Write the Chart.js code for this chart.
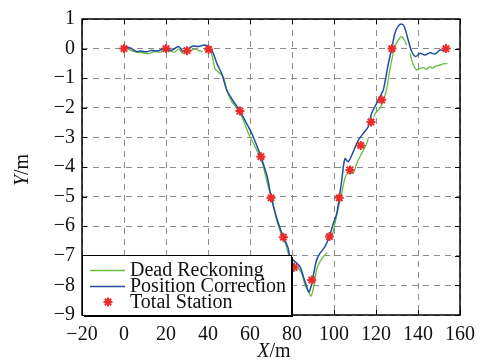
<!DOCTYPE html>
<html><head><meta charset="utf-8">
<script src="https://cdn.jsdelivr.net/npm/chart.js@4/dist/chart.umd.min.js"></script>
<style>html,body{margin:0;padding:0;background:#fff}</style>
</head><body>
<canvas id="c" width="480" height="361"></canvas>
<script>
// Tick values
const xTickValues = [-20, 0, 20, 40, 60, 80, 100, 120, 140, 160];
const yTickValues = [-9, -8, -7, -6, -5, -4, -3, -2, -1, 0, 1];

// Total Station
const tsX = [0, 20, 30, 40.3, 55.2, 65.2, 70, 75.9, 81, 89.4, 97.8, 102.5, 107.6, 112.7, 117.6, 122.7, 127.6, 153.3];
const tsY = [0, 0, -0.07, -0.03, -2.11, -3.65, -5.04, -6.37, -7.39, -7.82, -6.35, -5.04, -4.10, -3.27, -2.48, -1.73, 0, 0];

// Dead Reckoning (null = gap)
const drX = [1, 3, 6, 9, 12, 14, 17, 20, 22, 24, 26, 28, 30, 32, 34, 36, 37.5, null,
  41, 42, 43.3, 45, 47.3, 48.9, 51.3, 53, 55, 56.8, 59.2, 61.6, 64, 66, 68.7, 70.5, 72.7, 74.5, 75.9, 77, 78.2, 79.8, 82.2, 84.6, 86.2, 87.8, 89, 90.2, 91.7, 93.3, 95.7, 96.8, null,
  98.9, 100.5, 102, 103.7, 105.2, 106.8, 109.2, 110.8, 113.2, 115.6, 116.3, null,
  119, 120, 121.9, 123.5, 125.1, 126.3, 127.5, 129, 130.6, 132.2, 133.5, 134.6, null,
  136.2, 137, 137.8, 139.3, 141, 142.5, 144.1, 145.7, 147, 148.1, 150, 151.3, 154];
const drY = [0.04, -0.05, -0.12, -0.14, -0.17, -0.1, -0.12, -0.05, -0.08, -0.12, -0.02, -0.16, -0.1, -0.05, -0.02, -0.08, -0.1, null,
  -0.05, -0.25, -0.67, -0.8, -0.95, -1.4, -1.79, -1.95, -2.15, -2.41, -2.86, -3.2, -3.55, -3.9, -4.67, -5.1, -5.79, -6.2, -6.47, -6.6, -6.92, -7.25, -7.37, -7.59, -7.99, -8.21, -8.36, -8.1, -7.48, -7.2, -6.97, -6.9, null,
  -6.41, -5.9, -5.4, -4.89, -4.38, -4.21, -4.21, -3.88, -3.54, -3.2, -3.03, null,
  -2.3, -2.15, -2.02, -1.74, -1.37, -0.83, -0.39, 0.06, 0.29, 0.4, 0.29, 0.12, null,
  -0.16, -0.39, -0.55, -0.72, -0.67, -0.64, -0.7, -0.61, -0.66, -0.6, -0.57, -0.53, -0.5];

// Position Correction
const pcX = [0.5, 3, 6, 8, 10.8, 13, 15.6, 18, 20, 22.7, 25.9, 28.2, 30.6, 33, 35.4, 38.6, 41, 42.5, 44.5, 46.5, 48.9, 50.5, 52, 55.2, 58.4, 60.8, 62.8, 65.2, 68.2, 70.1, 73, 75.9, 78, 79, 80.6, 83.8, 85.4, 87, 88.1, 89.7, 90.2, 91.7, 93.3, 95.7, 97.8, 99.7, 101.3, 102.5, 103.7, 105.2, 106.8, 109.2, 111.6, 114, 116.3, 117.9, 120.3, 122.7, 123.5, 125.9, 127.5, 129, 130.6, 132.2, 133.5, 135.1, 137, 138.9, 141, 143.3, 145.7, 148.1, 150.5, 152.9, 153.5];
const pcY = [0.07, 0.02, -0.1, -0.08, -0.11, -0.06, -0.08, -0.03, 0, -0.06, 0.07, -0.1, 0, 0.09, 0.07, 0.12, 0.02, -0.16, -0.55, -0.84, -1.4, -1.6, -1.77, -2.11, -2.53, -2.86, -3.2, -3.65, -4.33, -5.04, -5.79, -6.37, -6.7, -7.0, -7.14, -7.37, -7.7, -8.04, -8.22, -7.87, -7.65, -7.14, -6.92, -6.69, -6.35, -5.9, -5.57, -5.04, -4.44, -3.72, -3.82, -3.48, -3.09, -2.86, -2.64, -2.19, -1.85, -1.51, -1.4, -0.5, 0, 0.52, 0.76, 0.83, 0.74, 0.35, -0.1, -0.27, -0.16, -0.22, -0.14, -0.18, -0.05, -0.07, 0];

const seriesNames = ['Dead Reckoning', 'Position Correction', 'Total Station'];
const GREEN = '#63bd3f', BLUE = '#1f4fa3', RED = '#ee2b2b';
const FONT = "'Liberation Serif', 'DejaVu Serif', serif";
const FS = 20;

const toPts = (xs, ys) => xs.map((x, i) => ({x: x, y: ys[i]}));
const minus = v => String(v).replace('-', '\u2212');

const framePlugin = {
  id: 'frame',
  afterDatasetsDraw(chart) {
    const {ctx, chartArea: a, scales: {x, y}} = chart;
    ctx.save();
    // inward ticks
    ctx.strokeStyle = '#000'; ctx.lineWidth = 1;
    ctx.beginPath();
    xTickValues.forEach(v => {
      const px = Math.round(x.getPixelForValue(v)) + 0.5;
      ctx.moveTo(px, a.bottom); ctx.lineTo(px, a.bottom - 5);
      ctx.moveTo(px, a.top); ctx.lineTo(px, a.top + 5);
    });
    yTickValues.forEach(v => {
      const py = Math.round(y.getPixelForValue(v)) + 0.5;
      ctx.moveTo(a.left, py); ctx.lineTo(a.left + 5, py);
      ctx.moveTo(a.right, py); ctx.lineTo(a.right - 5, py);
    });
    ctx.stroke();
    // frame
    ctx.lineWidth = 1.5;
    ctx.strokeRect(a.left, a.top, a.right - a.left, a.bottom - a.top);

    // legend box
    const bx = 82, by = 255, bw = 209, bh = 60;
    ctx.fillStyle = '#000';
    ctx.fillRect(bx + 2, by + 2, bw, bh);
    ctx.fillStyle = '#fff';
    ctx.fillRect(bx, by, bw, bh);
    ctx.lineWidth = 1;
    ctx.strokeStyle = '#000';
    ctx.strokeRect(bx + 0.5, by + 0.5, bw, bh);
    const rows = [270.5, 286.5, 302];
    ctx.lineWidth = 1.5;
    ctx.strokeStyle = GREEN;
    ctx.beginPath(); ctx.moveTo(90, rows[0]); ctx.lineTo(125, rows[0]); ctx.stroke();
    ctx.strokeStyle = BLUE;
    ctx.beginPath(); ctx.moveTo(90, rows[1]); ctx.lineTo(125, rows[1]); ctx.stroke();
    ctx.strokeStyle = RED; ctx.fillStyle = RED; ctx.lineWidth = 2;
    Chart.helpers.drawPoint(ctx, {pointStyle: 'star', radius: 4.5, borderWidth: 2}, 108, rows[2]);
    ctx.fillStyle = '#111';
    ctx.font = FS + 'px ' + FONT;
    ctx.textBaseline = 'middle';
    ctx.textAlign = 'left';
    seriesNames.forEach((n, i) => ctx.fillText(n, 130, rows[i] + 0.5));

    // axis titles
    ctx.textBaseline = 'alphabetic';
    ctx.font = 'italic ' + FS + 'px ' + FONT;
    const wX = ctx.measureText('X').width;
    ctx.font = FS + 'px ' + FONT;
    const wM = ctx.measureText('/m').width;
    const cx = 274 - (wX + wM) / 2;
    ctx.font = 'italic ' + FS + 'px ' + FONT;
    ctx.fillText('X', cx, 357);
    ctx.font = FS + 'px ' + FONT;
    ctx.fillText('/m', cx + wX, 357);

    ctx.translate(28, 170);
    ctx.rotate(-Math.PI / 2);
    ctx.font = 'italic ' + FS + 'px ' + FONT;
    const wY = ctx.measureText('Y').width;
    ctx.fillText('Y', -(wY + wM) / 2, 0);
    ctx.font = FS + 'px ' + FONT;
    ctx.fillText('/m', -(wY + wM) / 2 + wY, 0);
    ctx.restore();
  }
};

const grid = {color: '#8a8a8a', lineWidth: 1, drawTicks: false};

new Chart(document.getElementById('c'), {
  type: 'scatter',
  data: {
    datasets: [
      {label: seriesNames[2], data: toPts(tsX, tsY), order: 0, showLine: false,
       pointStyle: 'star', pointRadius: 4.5, borderColor: RED, backgroundColor: RED, pointBorderWidth: 2},
      {label: seriesNames[1], data: toPts(pcX, pcY), order: 1, showLine: true, spanGaps: false,
       borderColor: BLUE, borderWidth: 1.5, pointRadius: 0, tension: 0.3},
      {label: seriesNames[0], data: toPts(drX, drY), order: 2, showLine: true, spanGaps: false,
       borderColor: GREEN, borderWidth: 1.3, pointRadius: 0, tension: 0.3}
    ]
  },
  options: {
    responsive: false, animation: false, devicePixelRatio: 1,
    layout: {padding: {left: 0, right: 20, top: 19, bottom: 0}},
    plugins: {legend: {display: false}, tooltip: {enabled: false}},
    scales: {
      x: {type: 'linear', min: -20, max: 160,
          afterBuildTicks: s => { s.ticks = xTickValues.map(v => ({value: v})); },
          afterFit: s => { s.height = 46; s.paddingLeft = 0; s.paddingRight = 0; },
          grid: {...grid}, border: {display: false, dash: [6, 5]},
          ticks: {color: '#111', font: {family: FONT, size: FS}, padding: 8, maxRotation: 0, autoSkip: false, callback: minus}},
      y: {type: 'linear', min: -9, max: 1,
          afterBuildTicks: s => { s.ticks = yTickValues.map(v => ({value: v})); },
          afterFit: s => { s.width = 82; s.paddingTop = 0; s.paddingBottom = 0; },
          grid: {...grid}, border: {display: false, dash: [6, 5]},
          ticks: {color: '#111', font: {family: FONT, size: FS}, padding: 7, autoSkip: false, callback: minus}}
    }
  },
  plugins: [framePlugin]
});
</script>
</body></html>
